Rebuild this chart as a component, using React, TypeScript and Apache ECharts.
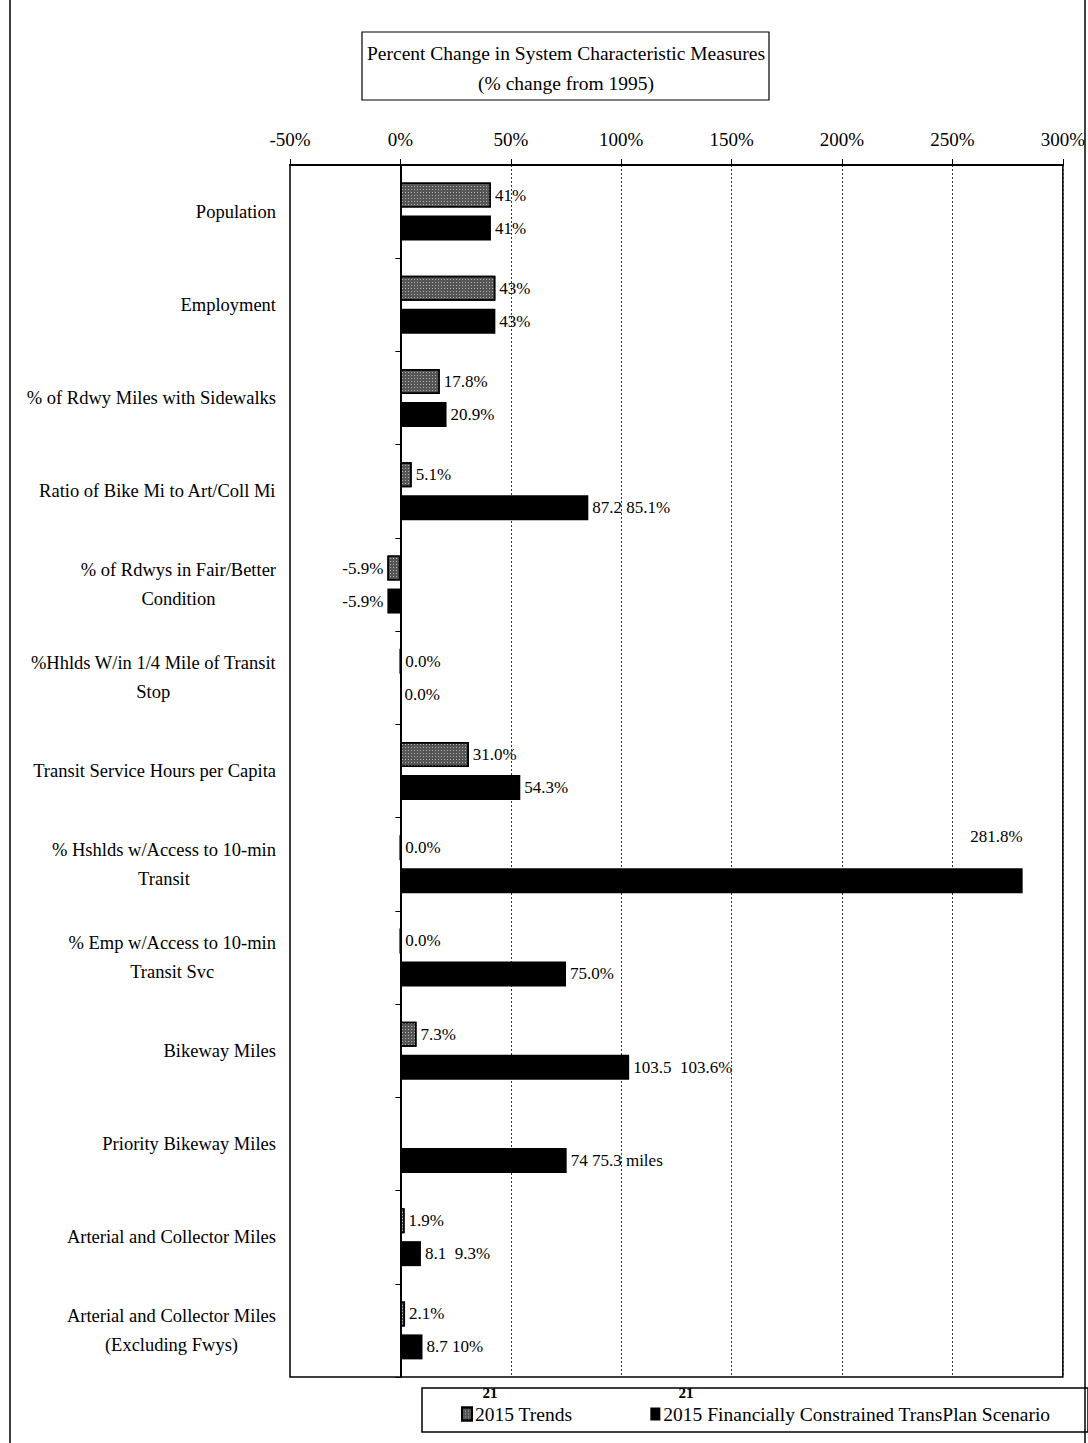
import React, { useEffect, useRef } from "react";
import * as echarts from "echarts";

const categories = [
  "Population",
  "Employment",
  "% of Rdwy Miles with Sidewalks",
  "Ratio of Bike Mi to Art/Coll Mi",
  "% of Rdwys in Fair/Better\nCondition",
  "%Hhlds W/in 1/4 Mile of Transit\nStop",
  "Transit Service Hours per Capita",
  "% Hshlds w/Access to 10-min\nTransit",
  "% Emp w/Access to 10-min\nTransit Svc",
  "Bikeway Miles",
  "Priority Bikeway Miles",
  "Arterial and Collector Miles",
  "Arterial and Collector Miles\n(Excluding Fwys)",
];

const trendValues: (number | null)[] = [41, 43, 17.8, 5.1, -5.9, 0, 31.0, 0, 0, 7.3, null, 1.9, 2.1];
const planValues: (number | null)[] = [41, 43, 20.9, 85.1, -5.9, 0, 54.3, 281.8, 75.0, 103.6, 75.3, 9.3, 10];

const trendLabels = ["41%", "43%", "17.8%", "5.1%", "-5.9%", "0.0%", "31.0%", "0.0%", "0.0%", "7.3%", "", "1.9%", "2.1%"];
const planLabels = ["41%", "43%", "20.9%", "87.2 85.1%", "-5.9%", "0.0%", "54.3%", "281.8%", "75.0%", "103.5  103.6%", "74 75.3 miles", "8.1  9.3%", "8.7 10%"];

const xTicks = { min: -50, max: 300, interval: 50 };

const seriesNames = ["2015 Trends", "2015 Financially Constrained TransPlan Scenario"];

const FONT = "Liberation Serif";

export default function App() {
  const ref = useRef<HTMLDivElement>(null);
  useEffect(() => {
    if (!ref.current) return;
    const chart = echarts.init(ref.current, undefined, { renderer: "svg" });

    const labelFor = (labels: string[], values: (number | null)[], i: number) => {
      const v = values[i];
      const base: any = {
        show: labels[i] !== "",
        formatter: labels[i],
        fontFamily: FONT,
        fontSize: 17,
        color: "#000",
        distance: 4,
        position: v !== null && v < 0 ? "left" : "right",
      };
      return base;
    };

    const trendData = trendValues.map((v, i) => ({
      value: v === null ? "-" : v,
      label: labelFor(trendLabels, trendValues, i),
    }));
    const planData = planValues.map((v, i) => {
      const lab = labelFor(planLabels, planValues, i);
      if (v !== null && v > 250) {
        lab.position = ["100%", -32];
        lab.align = "right";
        lab.verticalAlign = "middle";
      }
      return { value: v === null ? "-" : v, label: lab };
    });

    chart.setOption({
      animation: false,
      textStyle: { fontFamily: FONT },
      grid: {
        left: 290,
        right: 23,
        top: 165,
        bottom: 66,
        show: true,
        borderColor: "#000",
        borderWidth: 1.5,
        containLabel: false,
      },
      xAxis: {
        type: "value",
        position: "top",
        min: xTicks.min,
        max: xTicks.max,
        interval: xTicks.interval,
        axisLine: { show: true, lineStyle: { color: "#000", width: 2 } },
        axisTick: { show: true, length: 6, lineStyle: { color: "#000" } },
        axisLabel: {
          formatter: "{value}%",
          fontFamily: FONT,
          fontSize: 19,
          color: "#000",
          margin: 16,
        },
        splitLine: {
          show: true,
          lineStyle: { color: "#333", type: [2, 2], width: 1 },
        },
      },
      yAxis: [
        {
          type: "category",
          data: categories,
          inverse: true,
          position: "left",
          axisLine: { show: false, onZero: false },
          axisTick: { show: false },
          axisLabel: {
            fontFamily: FONT,
            fontSize: 18.5,
            color: "#000",
            margin: 14,
            lineHeight: 29,
            formatter: (val: string) =>
              val
                .split("\n")
                .map((l) => "{c|" + l + "}")
                .join("\n"),
            rich: { c: { align: "center", fontFamily: FONT, fontSize: 18.5, lineHeight: 29, color: "#000" } },
          },
          splitLine: { show: false },
        },
        {
          type: "category",
          data: categories,
          inverse: true,
          position: "left",
          axisLine: { show: true, onZero: true, lineStyle: { color: "#000", width: 2 } },
          axisTick: { show: true, length: 5, lineStyle: { color: "#000" } },
          axisLabel: { show: false },
          splitLine: { show: false },
        },
      ],
      legend: {
        left: 456,
        top: 1399,
        itemWidth: 10,
        itemHeight: 13,
        itemGap: 78,
        icon: "rect",
        textStyle: { fontFamily: FONT, fontSize: 19.5, color: "#000", padding: [0, 0, 0, -2] },
        data: seriesNames,
      },
      series: [
        {
          name: seriesNames[0],
          type: "bar",
          yAxisIndex: 0,
          barWidth: 25,
          barGap: "32%",
          itemStyle: {
            color: "#555",
            borderColor: "#000",
            borderWidth: 1.5,
            decal: {
              symbol: "rect",
              symbolSize: 1,
              color: "rgba(255,255,255,0.55)",
              dashArrayX: [1, 2],
              dashArrayY: [1, 2],
              rotation: 0,
            },
          },
          data: trendData,
        },
        {
          name: seriesNames[1],
          type: "bar",
          yAxisIndex: 0,
          barWidth: 25,
          itemStyle: { color: "#000" },
          data: planData,
        },
      ],
      graphic: [
        { type: "line", shape: { x1: 10, y1: 0, x2: 10, y2: 1443 }, style: { stroke: "#000", lineWidth: 1.5 } },
        { type: "line", shape: { x1: 1085, y1: 0, x2: 1085, y2: 1443 }, style: { stroke: "#000", lineWidth: 1.5 } },
        {
          type: "rect",
          shape: { x: 362, y: 32, width: 407, height: 68 },
          style: { fill: "#fff", stroke: "#000", lineWidth: 1.2 },
        },
        {
          type: "text",
          x: 566,
          y: 53,
          style: {
            text: "Percent Change in System Characteristic Measures",
            font: "19.5px 'Liberation Serif'",
            fill: "#000",
            align: "center",
            verticalAlign: "middle",
          },
        },
        {
          type: "text",
          x: 566,
          y: 83,
          style: {
            text: "(% change from 1995)",
            font: "19.5px 'Liberation Serif'",
            fill: "#000",
            align: "center",
            verticalAlign: "middle",
          },
        },
        {
          type: "rect",
          shape: { x: 422, y: 1388, width: 666, height: 44 },
          style: { fill: "none", stroke: "#000", lineWidth: 1.5 },
          z: -1,
        },
        {
          type: "text",
          x: 490,
          y: 1393,
          style: { text: "21", font: "bold 15px 'Liberation Serif'", fill: "#000", align: "center", verticalAlign: "middle" },
        },
        {
          type: "text",
          x: 686,
          y: 1393,
          style: { text: "21", font: "bold 15px 'Liberation Serif'", fill: "#000", align: "center", verticalAlign: "middle" },
        },
      ],
    });
    return () => chart.dispose();
  }, []);
  return (
    <div
      ref={ref}
      style={{ position: "absolute", left: 0, top: 0, width: 1088, height: 1443, background: "#fff" }}
    />
  );
}
